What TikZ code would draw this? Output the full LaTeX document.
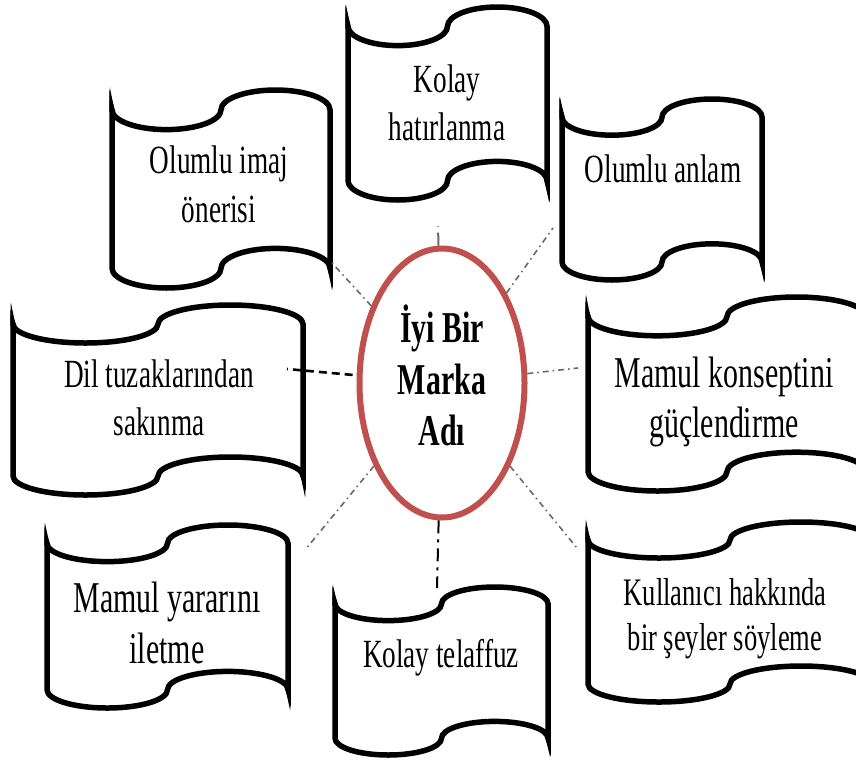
\documentclass[tikz,border=0pt]{standalone}
\usepackage{fontspec}
\setmainfont{Liberation Serif}
\usetikzlibrary{shapes.geometric}

\definecolor{brandred}{RGB}{192,80,77}
\definecolor{linkgray}{RGB}{105,105,105}

% narrow, centred, top-aligned text block
\newcommand\sq[1]{\scalebox{0.68}[1]{\begin{tabular}[t]{@{}c@{}}#1\end{tabular}}}

% punched-tape banner between (x0,y0) and (x1,y1), y measured downwards
\newcommand\tapebox[4]{%
  \pgfmathsetmacro\tpa{(#4-#2)/10}%
  \pgfmathsetmacro\tpq{(#3-#1)/4}%
  \pgfmathsetmacro\tpt{#2+\tpa}%
  \pgfmathsetmacro\tpb{#4-\tpa}%
  \pgfmathsetmacro\tpka{0.5523*\tpa}%
  \pgfmathsetmacro\tpkq{0.5523*\tpq}%
  \draw[tape] (#1,\tpt)
    .. controls (#1,\tpt+\tpka) and (#1+\tpq-\tpkq,\tpt+\tpa) .. (#1+\tpq,\tpt+\tpa)
    .. controls (#1+\tpq+\tpkq,\tpt+\tpa) and (#1+2*\tpq,\tpt+\tpka) .. (#1+2*\tpq,\tpt)
    .. controls (#1+2*\tpq,\tpt-\tpka) and (#1+3*\tpq-\tpkq,#2) .. (#1+3*\tpq,#2)
    .. controls (#1+3*\tpq+\tpkq,#2) and (#3,\tpt-\tpka) .. (#3,\tpt)
    -- (#3,\tpb)
    .. controls (#3,\tpb-\tpka) and (#1+3*\tpq+\tpkq,\tpb-\tpa) .. (#1+3*\tpq,\tpb-\tpa)
    .. controls (#1+3*\tpq-\tpkq,\tpb-\tpa) and (#1+2*\tpq,\tpb-\tpka) .. (#1+2*\tpq,\tpb)
    .. controls (#1+2*\tpq,\tpb+\tpka) and (#1+\tpq+\tpkq,#4) .. (#1+\tpq,#4)
    .. controls (#1+\tpq-\tpkq,#4) and (#1,\tpb+\tpka) .. (#1,\tpb)
    -- cycle;
  % pointed corners where the edge turns back on itself
  \fill (#1-2.75,\tpt+2) -- (#1+2.75,\tpt+2) -- (#1-2.2,\tpt-1.15*\tpa) -- cycle;
  \fill (#3+2.75,\tpb-2) -- (#3-2.75,\tpb-2) -- (#3+2.2,\tpb+1.15*\tpa) -- cycle;
}

\begin{document}
\begin{tikzpicture}[x=1pt, y=-1pt,
  tape/.style={line width=5.5pt, fill=white},
  lbl/.style={anchor=base, inner sep=0pt, font=\fontsize{40}{48}\selectfont},
  lblbig/.style={lbl, font=\fontsize{44}{51}\selectfont},
  brandstyle/.style={ellipse, draw=brandred, line width=6pt, fill=white,
    minimum width=165pt, minimum height=269pt, inner sep=0pt,
    font=\fontsize{44}{51.5}\selectfont\bfseries},
  linkdot/.style={draw=linkgray, line width=1.6pt,
    dash pattern=on 6pt off 4pt on 1.5pt off 4pt},
  linkdark/.style={draw=black, line width=2pt,
    dash pattern=on 13pt off 6pt on 3pt off 6pt},
  linkdash/.style={draw=black, line width=2.6pt,
    dash pattern=on 8pt off 5pt}]
\useasboundingbox (0,0) rectangle (856,764);
\clip (0,0) rectangle (856,764);
\fill[white] (0,0) rectangle (856,764);

% banners
\tapebox{348}{7}{547}{200}
\tapebox{112}{90}{330}{288}
\tapebox{562}{99}{762}{280}
\tapebox{13}{305}{303}{495}
\tapebox{588}{297}{866}{491}
\tapebox{588}{522}{872}{702}
\tapebox{47}{525}{288}{708}
\tapebox{335}{587}{548}{755}

% banner texts
\node[lbl] (easyrecall) at (447,92) {\sq{Kolay\\hatırlanma}};
\node[lbl, font=\fontsize{40}{49}\selectfont] (posimage) at (219,173) {\sq{Olumlu imaj\\önerisi}};
\node[lbl] (posmeaning) at (663,182) {\sq{Olumlu anlam}};
\node[lbl] (pitfalls) at (159,387) {\sq{Dil tuzaklarından\\sakınma}};
\node[lbl, font=\fontsize{44}{50}\selectfont] (concept) at (724,387) {\sq{Mamul konseptini\\güçlendirme}};
\node[lbl, font=\fontsize{39}{45}\selectfont] (user) at (725,605) {\sq{Kullanıcı hakkında\\bir şeyler söyleme}};
\node[lblbig] (benefit) at (167,612) {\sq{Mamul yararını\\iletme}};
\node[lbl] (pronounce) at (441,667) {\sq{Kolay telaffuz}};

% central ellipse
\node[brandstyle] (brand) at (442,383) {\sq{İyi Bir\\Marka\\Adı}};

% connector ends next to the banners
\coordinate (tEasyRecall) at (438,226);
\coordinate (tPosImage) at (332,263);
\coordinate (tPosMeaning) at (553,228);
\coordinate (tPitfalls) at (287,369);
\coordinate (tConcept) at (578,368);
\coordinate (tBenefit) at (305,550);
\coordinate (tPronounce) at (437,588);
\coordinate (tUser) at (577,548);

\draw[linkdark, draw=linkgray] (brand) -- (tEasyRecall);
\draw[linkdot] (brand) -- (tPosImage);
\draw[linkdot] (brand) -- (tPosMeaning);
\draw[linkdash, shorten <=4pt] (brand) -- (tPitfalls);
\draw[linkdot] (brand) -- (tConcept);
\draw[linkdot] (brand) -- (tBenefit);
\draw[linkdark] (brand) -- (tPronounce);
\draw[linkdot] (brand) -- (tUser);
\end{tikzpicture}
\end{document}
